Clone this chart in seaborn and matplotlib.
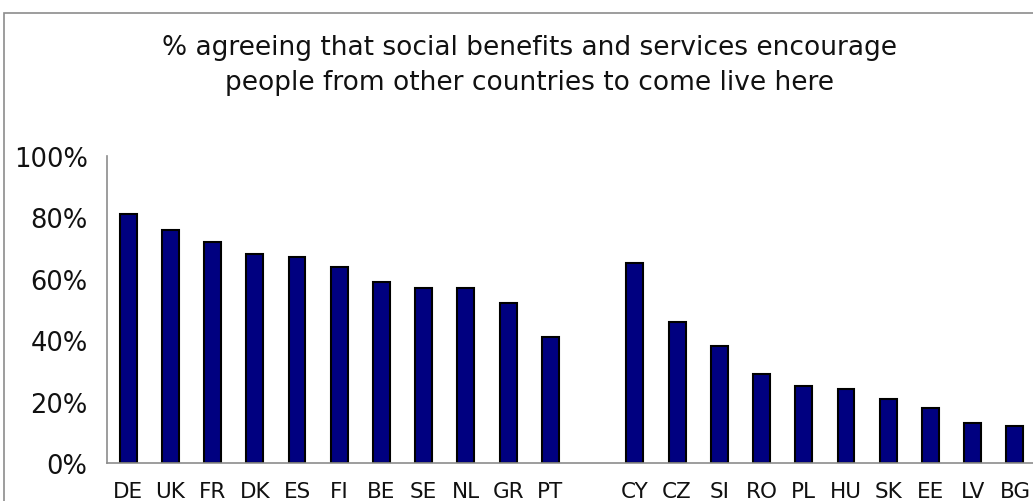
import matplotlib
matplotlib.use("Agg")
import matplotlib.pyplot as plt
from matplotlib.patches import Rectangle
from matplotlib.ticker import PercentFormatter
import pandas as pd
import seaborn as sns

# Survey shares (%), two country groups separated by an empty slot
group_a = ["DE", "UK", "FR", "DK", "ES", "FI", "BE", "SE", "NL", "GR", "PT"]
values_a = [81, 76, 72, 68, 67, 64, 59, 57, 57, 52, 41]
group_b = ["CY", "CZ", "SI", "RO", "PL", "HU", "SK", "EE", "LV", "BG"]
values_b = [65, 46, 38, 29, 25, 24, 21, 18, 13, 12]
gap_label = " "
title = ("% agreeing that social benefits and services encourage\n"
         "people from other countries to come live here")

df = pd.DataFrame({
    "country": group_a + group_b,
    "share": [v / 100 for v in values_a + values_b],
})
order = group_a + [gap_label] + group_b

sns.set_theme(style="white")
plt.rcParams["font.family"] = ["DejaVu Sans"]

fig = plt.figure(figsize=(10.33, 5.02), dpi=100)
ax = fig.add_axes([0.1036, 0.0757, 0.8993, 0.6116])

sns.barplot(data=df, x="country", y="share", order=order, ax=ax,
            color="#000080", saturation=1, width=0.4,
            edgecolor="black", linewidth=1.5)

ax.set_ylim(0, 1)
ax.set_xlim(-0.5, len(order) - 0.5)
ax.set_yticks([0, 0.2, 0.4, 0.6, 0.8, 1.0])
ax.yaxis.set_major_formatter(PercentFormatter(1.0, decimals=0))
ax.set_xlabel("")
ax.set_ylabel("")
ax.tick_params(axis="y", length=0, pad=14, labelsize=18.5, colors="#111111")
ax.tick_params(axis="x", length=0, pad=13, labelsize=15.5, colors="#111111")
for side in ("top", "right"):
    ax.spines[side].set_visible(False)
for side in ("left", "bottom"):
    ax.spines[side].set_color("#8c8c8c")
    ax.spines[side].set_linewidth(1.2)

fig.text(0.513, 0.870, title, ha="center", va="center", fontsize=19,
         linespacing=1.43, color="#111111")

# Outer chart frame
fig.patches.append(Rectangle((4 / 1033, -0.1), 1.2, (502 - 14) / 502 + 0.1,
                             transform=fig.transFigure, fill=False,
                             edgecolor="#8c8c8c", linewidth=1.2))

fig.savefig("out.png", dpi=100)
